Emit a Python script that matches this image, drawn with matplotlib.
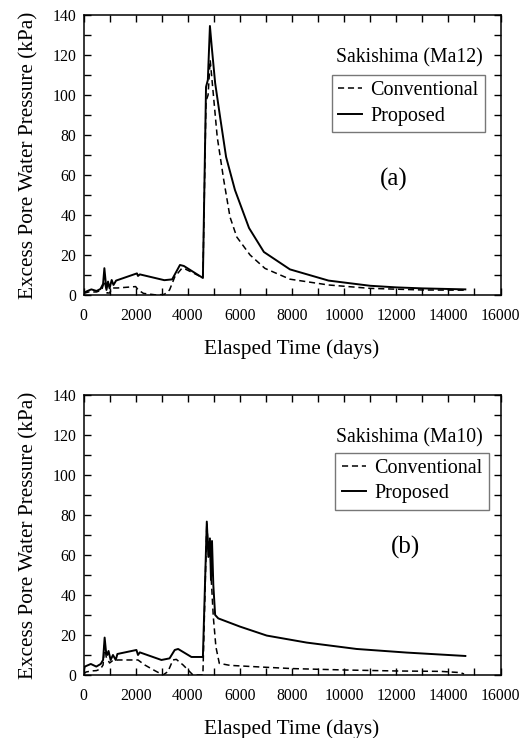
# ======================================================================
# SECTION 1: IMPORTS
# ======================================================================
import matplotlib
matplotlib.use("Agg")
import matplotlib.pyplot as plt
from matplotlib.ticker import MultipleLocator


# ======================================================================
# SECTION 2: DATA
# ======================================================================
# (a) Sakishima (Ma12)
ma12_prop_t = [0, 150, 300, 500, 650, 750, 800, 880, 940, 1000, 1080, 1150,
               1250, 2050, 2090, 2160, 3100, 3400, 3700, 3850, 4580, 4700,
               4770, 4850, 4920, 5050, 5240, 5470, 5810, 6350, 6920, 7920,
               9400, 11000, 12000, 13000, 14650]
ma12_prop_u = [1.0, 2.0, 2.8, 2.0, 3.0, 5.5, 13.4, 2.5, 6.7, 3.3, 7.5, 5.0,
               7.2, 10.8, 9.5, 10.3, 7.4, 7.8, 15.0, 14.5, 8.5, 104.0,
               107.5, 134.5, 124.0, 106.0, 89.0, 69.0, 52.5, 33.5, 21.5, 12.8,
               7.2, 4.6, 3.8, 3.3, 2.8]

ma12_conv_t = [0, 200, 500, 700, 800, 900, 1000, 1100, 1300, 2000, 2100, 2300,
               2800, 3100, 3300, 3500, 3770, 3900, 4580, 4700, 4780, 4860,
               4990, 5130, 5380, 5620, 5880, 6390, 6960, 7920, 9400, 11000,
               13000, 14650]
ma12_conv_u = [0.8, 1.5, 1.5, 2.5, 7.0, 1.0, 1.0, 3.5, 3.5, 4.2, 2.5, 0.8,
               0.0, 0.3, 2.5, 9.0, 13.3, 13.0, 8.6, 97.0, 100.0, 117.5,
               99.0, 79.0, 57.5, 39.0, 29.0, 20.0, 13.3, 7.9, 5.0, 3.3,
               2.5, 2.4]

# (b) Sakishima (Ma10)
ma10_prop_t = [0, 50, 280, 490, 660, 750, 810, 860, 910, 960, 1040, 1130,
               1235, 1300, 2030, 2090, 2160, 2990, 3300, 3500, 3630, 4140,
               4580, 4730, 4790, 4850, 4890, 4930, 4980, 5050, 5170, 6000,
               7030, 8560, 10480, 12400, 14650]
ma10_prop_u = [1.7, 4.2, 5.5, 4.2, 5.5, 7.5, 18.7, 12.0, 10.0, 12.0, 7.5, 10.0,
               7.5, 10.5, 12.5, 10.0, 11.3, 7.5, 8.3, 12.5, 13.0, 9.0,
               9.0, 76.7, 59.0, 68.3, 47.5, 67.0, 45.0, 30.0, 28.3, 24.2,
               19.7, 16.2, 13.0, 11.2, 9.5]

ma10_conv_t = [0, 100, 300, 500, 650, 750, 810, 870, 1000, 1100, 1320, 2090,
               2350, 2730, 3050, 3240, 3430, 3560, 3820, 4070, 4200, 4580,
               4730, 4800, 4860, 4900, 4980, 5080, 5210, 5620, 6770, 8000,
               10000, 12000, 13700, 14450, 14600]
ma10_conv_u = [0.5, 1.5, 2.0, 2.2, 3.0, 5.0, 15.0, 9.0, 6.0, 7.0, 7.5, 7.5,
               5.0, 2.2, 0.0, 1.7, 7.5, 7.8, 5.0, 1.7, 0.0, 0.0,
               76.0, 60.0, 66.0, 48.0, 29.0, 14.0, 5.8, 4.8, 4.0, 3.2,
               2.5, 2.0, 1.8, 1.2, 0.5]

panels = [
    ("Sakishima (Ma12)", "(a)", (11900, 58), (0.963, 0.786),
     ma12_conv_t, ma12_conv_u, ma12_prop_t, ma12_prop_u),
    ("Sakishima (Ma10)", "(b)", (12350, 64), (0.972, 0.794),
     ma10_conv_t, ma10_conv_u, ma10_prop_t, ma10_prop_u),
]


# ======================================================================
# SECTION 3: PLOT
# ======================================================================
plt.rcParams["font.family"] = ["Liberation Serif", "DejaVu Serif"]

fig = plt.figure(figsize=(5.31, 7.38), dpi=100)
fig.patch.set_facecolor("white")

axes_rects = [[0.1573, 0.6003, 0.7853, 0.3794],
              [0.1573, 0.0854, 0.7853, 0.3794]]

for rect, (site, tag, tag_xy, leg_anchor, ct, cu, pt, pu) in zip(axes_rects, panels):
    ax = fig.add_axes(rect)

    ax.plot(ct, cu, color="black", linewidth=1.1,
            linestyle=(0, (4, 2.5)), label="Conventional")
    ax.plot(pt, pu, color="black", linewidth=1.4,
            linestyle="-", label="Proposed")

    ax.set_xlim(0, 16000)
    ax.set_ylim(0, 140)
    ax.xaxis.set_major_locator(MultipleLocator(2000))
    ax.xaxis.set_minor_locator(MultipleLocator(1000))
    ax.yaxis.set_major_locator(MultipleLocator(20))
    ax.yaxis.set_minor_locator(MultipleLocator(10))
    ax.tick_params(which="both", direction="in", top=True, right=True,
                   length=5, width=1.0, labelsize=11.3)
    ax.tick_params(axis="x", pad=9.5)
    ax.tick_params(axis="y", pad=5)
    for sp in ax.spines.values():
        sp.set_linewidth(1.1)

    ax.set_xlabel("Elasped Time (days)", fontsize=15.3, labelpad=11)
    ax.set_ylabel("Excess Pore Water Pressure (kPa)", fontsize=15.3, labelpad=10.5)

    ax.text(15300, 118.5, site, fontsize=14.2, ha="right", va="center")
    ax.text(tag_xy[0], tag_xy[1], tag, fontsize=18, ha="center", va="center")

    leg = ax.legend(loc="upper right", bbox_to_anchor=leg_anchor,
                    borderaxespad=0, fontsize=14.5, frameon=True, fancybox=False,
                    handlelength=1.2, handletextpad=0.4, labelspacing=0.3,
                    borderpad=0.32)
    leg.get_frame().set_edgecolor("#555555")
    leg.get_frame().set_linewidth(1.0)

plt.savefig("out.png", dpi=100, facecolor="white")
